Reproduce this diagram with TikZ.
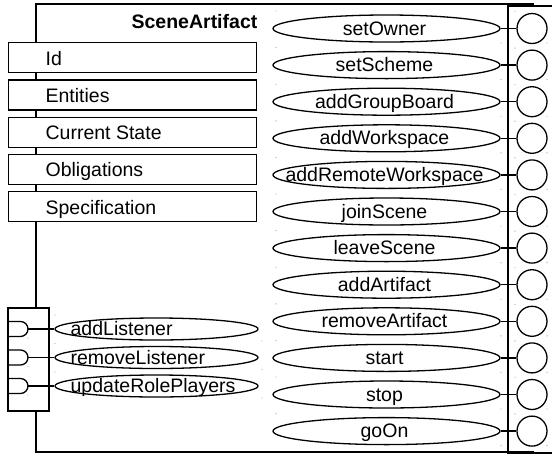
\documentclass[tikz,border=0pt]{standalone}
\usepackage{fontspec}
\setmainfont{Liberation Sans}
\usetikzlibrary{shapes.geometric}
\begin{document}
\begin{tikzpicture}[x=1pt,y=-1pt,
  line width=1.3pt,
  txt/.style={font=\fontsize{19.5}{23}\selectfont,inner sep=0},
  attrbox/.style={draw,fill=white,minimum width=248,minimum height=30,inner sep=0,anchor=north west},
  opell/.style={draw,ellipse,minimum width=227,minimum height=27,inner sep=0},
  lsell/.style={draw,ellipse,minimum width=203,minimum height=22,inner sep=0},
  port/.style={draw,circle,minimum size=30,inner sep=0},
  gdot/.style={fill=gray!60,draw=none}]
\useasboundingbox (0,0) rectangle (552,456);
% main component box
\draw (534,4) -- (36,4) -- (36,452) -- (534,452);
% right interface panel
\draw (552,6) -- (508,6) -- (508,453) -- (552,453);
% title
\node[txt,anchor=base east,font=\fontsize{19.5}{23}\selectfont\bfseries] (title) at (258,28) {SceneArtifact};
% attributes
\foreach \t [count=\i from 0] in {Id,Entities,Current State,Obligations,Specification}{
  \node[attrbox] (attr\i) at (8,{42+37.25*\i}) {};
  \node[txt,anchor=base west] (attrt\i) at ([xshift=37,yshift=-7.5]attr\i.west) {\t};
}
% provided operations
\foreach \t [count=\i from 0] in {setOwner,setScheme,addGroupBoard,addWorkspace,addRemoteWorkspace,joinScene,leaveScene,addArtifact,removeArtifact,start,stop,goOn}{
  \pgfmathsetmacro{\yy}{28.5+36.6*\i}
  \node[opell] (op\i) at (386.5,\yy) {};
  \node[txt,anchor=base] (opt\i) at (384.5,\yy+6.5) {\t};
  \node[port] (pp\i) at (532,\yy) {};
  \draw (op\i.east) -- (pp\i.west);
  \fill[gdot] (276,\yy-17.5) circle (0.7);
  \fill[gdot] (501,\yy+14.5) circle (0.7);
  \fill[gdot] (515,\yy-17) circle (0.7);
  \fill[gdot] (547,\yy+14.5) circle (0.7);
}
% required interface panel
\draw[fill=white] (8,308) rectangle (49,411);
\foreach \t [count=\i from 0] in {addListener,removeListener,updateRolePlayers}{
  \pgfmathsetmacro{\yy}{329+28.5*\i}
  \draw (8,\yy-7.5) -- (20.5,\yy-7.5) arc[start angle=-90,end angle=90,radius=7.5] -- (8,\yy+7.5);
  \coordinate (rq\i) at (28,\yy);
  \node[lsell] (ls\i) at (156.5,\yy) {};
  \node[txt,anchor=base west] (lst\i) at (70,\yy+6.5) {\t};
  \draw (rq\i) -- (ls\i.west);
  \fill[gdot] (55,\yy-14) circle (0.7);
  \fill[gdot] (262,\yy+12) circle (0.7);
  \fill[gdot] (28,\yy+9) circle (0.7);
}
\end{tikzpicture}
\end{document}
